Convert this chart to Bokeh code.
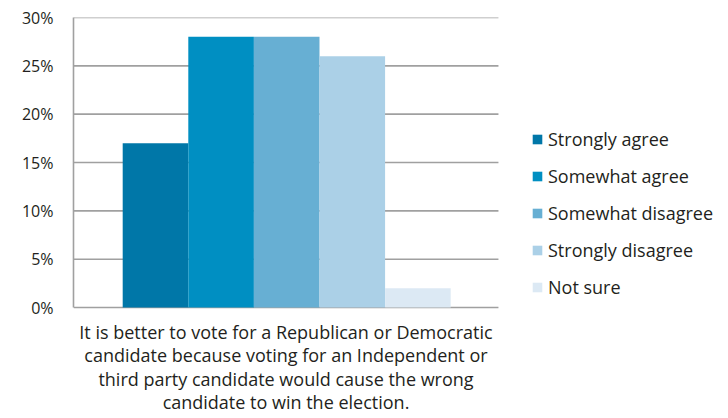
from bokeh.plotting import figure
from bokeh.models import ColumnDataSource, Legend, LegendItem, Range1d, FixedTicker, Label
from bokeh.embed import file_html
from bokeh.resources import INLINE

categories = ["Strongly agree", "Somewhat agree", "Somewhat disagree", "Strongly disagree", "Not sure"]
values = [17, 28, 28, 26, 2]
colors = ["#0077a8", "#008fc2", "#67afd3", "#abd0e7", "#dce9f4"]
yticks = [0, 5, 10, 15, 20, 25, 30]
ytick_labels = ["0%", "5%", "10%", "15%", "20%", "25%", "30%"]
question_lines = [
    "It is better to vote for a Republican or Democratic",
    "candidate because voting for an Independent or",
    "third party candidate would cause the wrong",
    "candidate to win the election.",
]

FONT = "Open Sans"
TXT = "#231f20"
GRID = "#a0a0a0"

# layout constants (plot frame covers the whole area right/below the axis)
X_START, X_END = -1.25, 8.735      # category units
GRID_END = 5.228                   # where the chart's gridlines stop
Y_START, Y_END = -11.48, 30

src = ColumnDataSource(dict(x=list(range(len(categories))), top=values, color=colors, label=categories))

p = figure(width=728, height=418, output_backend="svg", toolbar_location=None,
           x_range=Range1d(X_START, X_END), y_range=Range1d(Y_START, Y_END),
           min_border_left=73, min_border_top=17, min_border_right=0, min_border_bottom=0)
p.outline_line_color = None
p.xaxis.visible = False
p.grid.visible = False

# horizontal gridlines (and baseline) from the tick values
p.segment(x0=X_START, x1=GRID_END, y0=yticks, y1=yticks, line_color=GRID, line_width=1.6)

r = p.vbar(x="x", top="top", width=1.0, bottom=0, color="color", line_color=None, source=src)

p.yaxis.ticker = FixedTicker(ticks=yticks)
p.yaxis.bounds = (0, 30)
p.yaxis.major_label_overrides = {t: l for t, l in zip(yticks, ytick_labels)}
p.yaxis.major_tick_line_color = None
p.yaxis.minor_tick_line_color = None
p.yaxis.major_tick_out = 0
p.yaxis.major_tick_in = 0
p.yaxis.axis_line_color = GRID
p.yaxis.axis_line_width = 1.6
p.yaxis.major_label_text_font = FONT
p.yaxis.major_label_text_font_size = "16px"
p.yaxis.major_label_text_color = TXT
p.yaxis.major_label_standoff = 20

items = [LegendItem(label=c, renderers=[r], index=i) for i, c in enumerate(categories)]
legend = Legend(items=items, location=(458, 119), border_line_color=None, background_fill_alpha=0,
                padding=0, margin=0, spacing=12, glyph_width=12, glyph_height=12,
                label_height=25, label_standoff=5, label_text_font=FONT,
                label_text_font_size="18px", label_text_color=TXT)
p.add_layout(legend, "center")

for line, yc in zip(question_lines, [87, 63.5, 40, 16.5]):
    p.add_layout(Label(x=212.5, y=yc, x_units="screen", y_units="screen", text=line,
                       text_align="center", text_baseline="middle", text_font=FONT,
                       text_font_size="18px", text_color=TXT))

open("out.html", "w").write(file_html(p, INLINE))
